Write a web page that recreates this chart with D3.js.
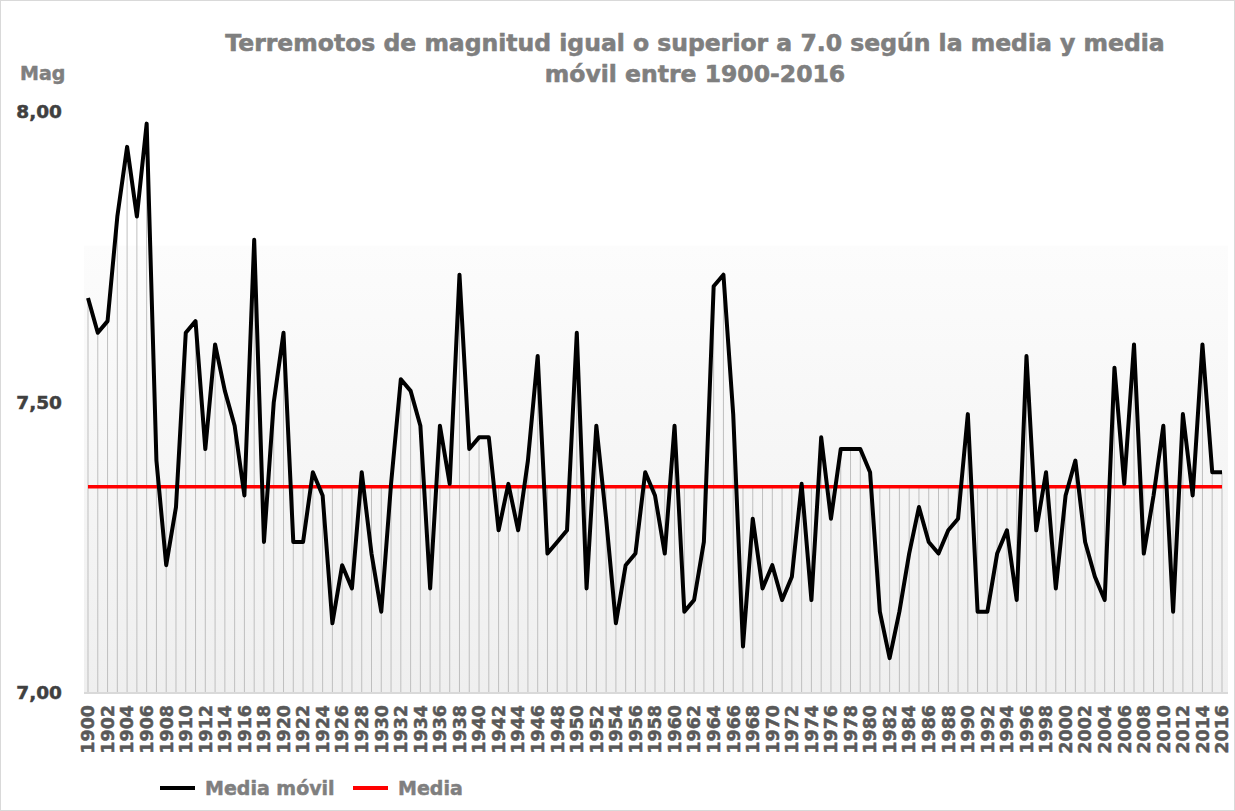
<!DOCTYPE html>
<html>
<head>
<meta charset="utf-8">
<script src="https://cdn.jsdelivr.net/npm/d3@7"></script>
<style>
  body { margin: 0; background: #fff; }
  svg text { font-family: "DejaVu Sans", "Liberation Sans", sans-serif; font-weight: bold; }
</style>
</head>
<body>
<svg width="1235" height="811"></svg>
<script>
var svg = d3.select("svg");

// Data: moving average of magnitude per year, and the overall mean
var years = d3.range(1900, 2017);
var mediaMovil = [
    7.68, 7.62, 7.64, 7.82, 7.94, 7.82, 7.98, 7.40, 7.22, 7.32, // 1900-1909
    7.62, 7.64, 7.42, 7.60, 7.52, 7.46, 7.34, 7.78, 7.26, 7.50, // 1910-1919
    7.62, 7.26, 7.26, 7.38, 7.34, 7.12, 7.22, 7.18, 7.38, 7.24, // 1920-1929
    7.14, 7.36, 7.54, 7.52, 7.46, 7.18, 7.46, 7.36, 7.72, 7.42, // 1930-1939
    7.44, 7.44, 7.28, 7.36, 7.28, 7.40, 7.58, 7.24, 7.26, 7.28, // 1940-1949
    7.62, 7.18, 7.46, 7.30, 7.12, 7.22, 7.24, 7.38, 7.34, 7.24, // 1950-1959
    7.46, 7.14, 7.16, 7.26, 7.70, 7.72, 7.48, 7.08, 7.30, 7.18, // 1960-1969
    7.22, 7.16, 7.20, 7.36, 7.16, 7.44, 7.30, 7.42, 7.42, 7.42, // 1970-1979
    7.38, 7.14, 7.06, 7.14, 7.24, 7.32, 7.26, 7.24, 7.28, 7.30, // 1980-1989
    7.48, 7.14, 7.14, 7.24, 7.28, 7.16, 7.58, 7.28, 7.38, 7.18, // 1990-1999
    7.34, 7.40, 7.26, 7.20, 7.16, 7.56, 7.36, 7.60, 7.24, 7.34, // 2000-2009
    7.46, 7.14, 7.48, 7.34, 7.60, 7.38, 7.38                    // 2010-2016
];
var mediaValue = 7.355;
var media = years.map(function() { return mediaValue; });
var yTicks = [7.0, 7.5, 8.0];
var xLabels = years.filter(function(d) { return d % 2 === 0; });

// Scales
var x = d3.scalePoint()
    .domain(years)
    .range([88, 1222]);

var y = d3.scaleLinear()
    .domain([7, 8])
    .range([693, 112]);

// Outer border
svg.append("rect")
    .attr("x", 0.5).attr("y", 0.5)
    .attr("width", 1234).attr("height", 810)
    .attr("fill", "none")
    .attr("stroke", "#d9d9d9");

// Plot background gradient
var grad = svg.append("defs").append("linearGradient")
    .attr("id", "bg")
    .attr("x1", 0).attr("y1", 0).attr("x2", 0).attr("y2", 1);
grad.append("stop").attr("offset", "0%").attr("stop-color", "#fcfcfc");
grad.append("stop").attr("offset", "100%").attr("stop-color", "#efefef");

svg.append("rect")
    .attr("x", 84)
    .attr("y", y(7.77))
    .attr("width", 1144)
    .attr("height", y(7) - y(7.77))
    .attr("fill", "url(#bg)");

// Drop lines from each point down to the axis
var drops = svg.append("g");
drops.selectAll("line")
    .data(years)
    .enter()
    .append("line")
    .attr("x1", function(d) { return x(d); })
    .attr("x2", function(d) { return x(d); })
    .attr("y1", function(d, i) { return y(Math.max(mediaMovil[i], media[i])); })
    .attr("y2", y(7))
    .attr("stroke", "#bfbfbf")
    .attr("stroke-width", 1);

// Category axis line
svg.append("line")
    .attr("x1", 84).attr("x2", 1228)
    .attr("y1", y(7)).attr("y2", y(7))
    .attr("stroke", "#d9d9d9")
    .attr("stroke-width", 2);

// Lines
var line = d3.line()
    .x(function(d, i) { return x(years[i]); })
    .y(function(d) { return y(d); });

svg.append("path")
    .datum(media)
    .attr("d", line)
    .attr("fill", "none")
    .attr("stroke", "#ff0000")
    .attr("stroke-width", 3.5);

svg.append("path")
    .datum(mediaMovil)
    .attr("d", line)
    .attr("fill", "none")
    .attr("stroke", "#000")
    .attr("stroke-width", 4)
    .attr("stroke-linejoin", "round");

// Y axis labels
var fmt = function(d) { return d3.format(".2f")(d).replace(".", ","); };
svg.selectAll(".ylab")
    .data(yTicks)
    .enter()
    .append("text")
    .attr("class", "ylab")
    .attr("x", 62)
    .attr("y", function(d) { return y(d); })
    .attr("dy", "0.35em")
    .attr("text-anchor", "end")
    .attr("fill", "#404040")
    .attr("stroke", "#404040")
    .attr("stroke-width", 0.5)
    .style("font-size", "18.5px")
    .text(fmt);

svg.append("text")
    .attr("x", 20).attr("y", 80)
    .attr("fill", "#7f7f7f")
    .attr("stroke", "#7f7f7f")
    .attr("stroke-width", 0.5)
    .style("font-size", "19px")
    .text("Mag");

// X axis labels (rotated)
svg.selectAll(".xlab")
    .data(xLabels)
    .enter()
    .append("text")
    .attr("class", "xlab")
    .attr("transform", function(d) { return "translate(" + x(d) + ",705) rotate(-90)"; })
    .attr("dy", "0.36em")
    .attr("text-anchor", "end")
    .attr("fill", "#595959")
    .attr("stroke", "#595959")
    .attr("stroke-width", 0.5)
    .style("font-size", "17.5px")
    .text(function(d) { return d; });

// Title
var title = svg.append("text")
    .attr("text-anchor", "middle")
    .attr("fill", "#7f7f7f")
    .attr("stroke", "#7f7f7f")
    .attr("stroke-width", 0.6)
    .style("font-size", "23.5px");
title.append("tspan").attr("x", 695).attr("y", 51)
    .text("Terremotos de magnitud igual o superior a 7.0 según la media y media");
title.append("tspan").attr("x", 695).attr("y", 82)
    .text("móvil entre 1900-2016");

// Legend
var legendItems = [
    { name: "Media móvil", color: "#000", x: 160 },
    { name: "Media", color: "#ff0000", x: 353 }
];
var legend = svg.selectAll(".legend")
    .data(legendItems)
    .enter()
    .append("g")
    .attr("class", "legend")
    .attr("transform", function(d) { return "translate(" + d.x + ",788)"; });
legend.append("line")
    .attr("x1", 0).attr("x2", 35)
    .attr("stroke", function(d) { return d.color; })
    .attr("stroke-width", 4);
legend.append("text")
    .attr("x", 45)
    .attr("dy", "0.36em")
    .attr("fill", "#7f7f7f")
    .attr("stroke", "#7f7f7f")
    .attr("stroke-width", 0.5)
    .style("font-size", "19px")
    .text(function(d) { return d.name; });
</script>
</body>
</html>
